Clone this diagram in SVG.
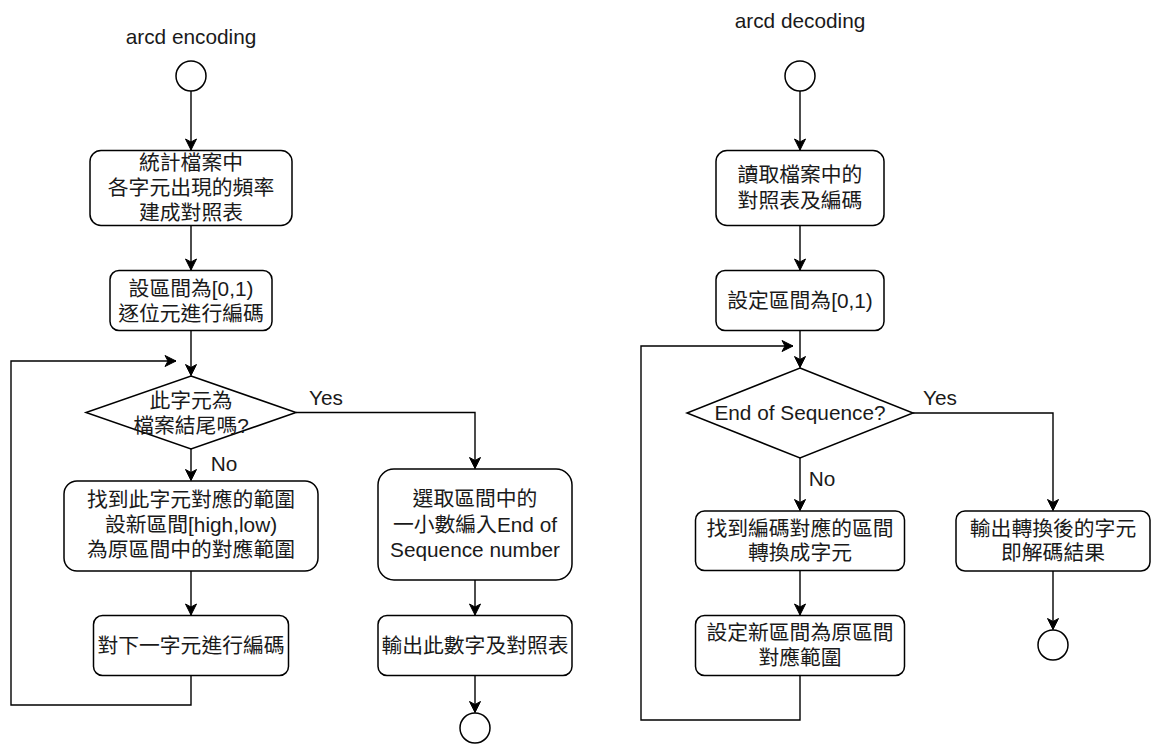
<svg xmlns="http://www.w3.org/2000/svg" width="1152" height="744" viewBox="0 0 1152 744">
<style>
.n{fill:#fff;stroke:#000;stroke-width:1.5}
.e{fill:none;stroke:#000;stroke-width:1.4}
text{font-family:"Liberation Sans","Noto Sans CJK TC",sans-serif;font-size:20.8px;fill:#1a1a1a;text-anchor:middle}
</style>
<defs>
<marker id="a" viewBox="0 0 13 12" refX="12" refY="6" markerWidth="13" markerHeight="12" markerUnits="userSpaceOnUse" orient="auto">
<path d="M1,0.5 L12,6 L1,11.5 L4,6 Z" fill="#000" stroke="#000" stroke-width="1"/>
</marker>
</defs>
<rect width="1152" height="744" fill="#fff"/>
<g id="connectors">
<path class="e" d="M191,91 V150" marker-end="url(#a)"/>
<path class="e" d="M191,225.5 V270" marker-end="url(#a)"/>
<path class="e" d="M191,330.5 V375.5" marker-end="url(#a)"/>
<path class="e" d="M296,412.5 H475 V468.5" marker-end="url(#a)"/>
<path class="e" d="M191,449 V480.5" marker-end="url(#a)"/>
<path class="e" d="M191,571 V615" marker-end="url(#a)"/>
<path class="e" d="M191,675.5 V705 H11 V361 H176" marker-end="url(#a)"/>
<path class="e" d="M475,580 V615" marker-end="url(#a)"/>
<path class="e" d="M475,675.5 V712.5" marker-end="url(#a)"/>
<path class="e" d="M800,91 V150" marker-end="url(#a)"/>
<path class="e" d="M800,225.5 V270" marker-end="url(#a)"/>
<path class="e" d="M800,330.5 V367.5" marker-end="url(#a)"/>
<path class="e" d="M913,413 H1053 V510.5" marker-end="url(#a)"/>
<path class="e" d="M800,458 V510.5" marker-end="url(#a)"/>
<path class="e" d="M800,570.5 V615" marker-end="url(#a)"/>
<path class="e" d="M800,675.5 V720 H641 V346 H793" marker-end="url(#a)"/>
<path class="e" d="M1053,571 V629.5" marker-end="url(#a)"/>
</g>
<g id="labels">
<text x="191" y="44">arcd encoding</text>
<text x="800" y="28">arcd decoding</text>
<text x="326" y="405">Yes</text>
<text x="224" y="471">No</text>
<text x="940" y="405">Yes</text>
<text x="822" y="486">No</text>
</g>
<g id="enc-start"><circle class="n" cx="191" cy="76" r="15"/></g>
<g id="enc-count"><rect class="n" x="90" y="150.5" width="202" height="75" rx="11"/>
<text x="191" y="170">統計檔案中</text><text x="191" y="195">各字元出現的頻率</text><text x="191" y="220">建成對照表</text></g>
<g id="enc-init"><rect class="n" x="110" y="270.5" width="162" height="60" rx="9"/>
<text x="191" y="295.5">設區間為[0,1)</text><text x="191" y="320.5">逐位元進行編碼</text></g>
<g id="enc-check"><polygon class="n" points="191,376 296,412.5 191,449 86,412.5"/>
<text x="191" y="408">此字元為</text><text x="191" y="433">檔案結尾嗎?</text></g>
<g id="enc-range"><rect class="n" x="64" y="481" width="254" height="90" rx="13"/>
<text x="191" y="507">找到此字元對應的範圍</text><text x="191" y="532">設新區間[high,low)</text><text x="191" y="557">為原區間中的對應範圍</text></g>
<g id="enc-next"><rect class="n" x="93.5" y="615.5" width="195" height="60" rx="9"/>
<text x="191" y="652.5">對下一字元進行編碼</text></g>
<g id="enc-pick"><rect class="n" x="378" y="469" width="194" height="111" rx="16"/>
<text x="475" y="506">選取區間中的</text><text x="475" y="532">一小數編入End of</text><text x="475" y="557">Sequence number</text></g>
<g id="enc-output"><rect class="n" x="378" y="615.5" width="194" height="60" rx="9"/>
<text x="475" y="652.5">輸出此數字及對照表</text></g>
<g id="enc-end"><circle class="n" cx="475" cy="728" r="15"/></g>
<g id="dec-start"><circle class="n" cx="800" cy="76" r="15"/></g>
<g id="dec-read"><rect class="n" x="716" y="150.5" width="168" height="75" rx="11"/>
<text x="800" y="182">讀取檔案中的</text><text x="800" y="208">對照表及編碼</text></g>
<g id="dec-init"><rect class="n" x="716" y="270.5" width="168" height="60" rx="9"/>
<text x="800" y="307.5">設定區間為[0,1)</text></g>
<g id="dec-check"><polygon class="n" points="800,368 913,413 800,458 687,413"/>
<text x="800" y="420">End of Sequence?</text></g>
<g id="dec-find"><rect class="n" x="695.5" y="511" width="209" height="59.5" rx="9"/>
<text x="800" y="535.5">找到編碼對應的區間</text><text x="800" y="560">轉換成字元</text></g>
<g id="dec-set"><rect class="n" x="695.5" y="615.5" width="209" height="60" rx="9"/>
<text x="800" y="640">設定新區間為原區間</text><text x="800" y="665">對應範圍</text></g>
<g id="dec-output"><rect class="n" x="956" y="511" width="194" height="60" rx="9"/>
<text x="1053" y="535.5">輸出轉換後的字元</text><text x="1053" y="560">即解碼結果</text></g>
<g id="dec-end"><circle class="n" cx="1053" cy="645" r="15"/></g>
</svg>
